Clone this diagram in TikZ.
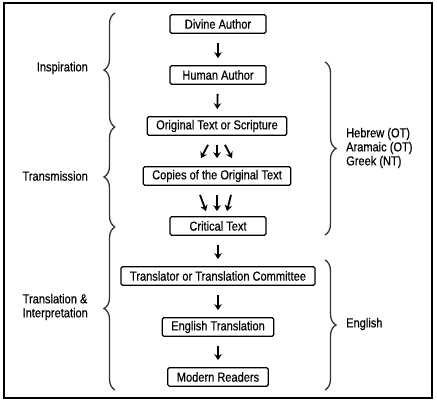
\documentclass[tikz,border=0pt]{standalone}
\usepackage{fontspec}
\setmainfont{Liberation Sans}[FakeStretch=0.85,FakeBold=0.5]
\usetikzlibrary{arrows.meta,decorations.pathreplacing}
\tikzstyle{stage} = [draw=black, line width=1.2pt, rounded corners=1.5pt,%
	minimum width=96pt, minimum height=18.5pt, inner xsep=9pt, inner ysep=0pt,%
	font=\fontsize{13}{14}\selectfont]
\tikzstyle{arrow} = [line width=1.8pt, -{Stealth[length=6pt,width=7.5pt]},%
	shorten <=9pt, shorten >=7pt]
\tikzstyle{fan} = [arrow, shorten <=0pt, shorten >=0pt]
\tikzstyle{curly} = [decorate, decoration={brace,amplitude=11pt},%
	line width=1.3pt, black!80]
\tikzstyle{side} = [font=\fontsize{13}{14}\selectfont, align=left, inner sep=0pt]

\begin{document}
\begin{tikzpicture}[x=1pt, y=-1pt]
		\useasboundingbox (0,0) rectangle (437,403);
		\draw[line width=1.3pt] (4,3) rectangle (432,398);
		% stages
		\node[stage] (divine) at (218,24) {Divine Author};
		\node[stage] (human) at (218,75) {Human Author};
		\node[stage] (original) at (217,126) {Original Text or Scripture};
		\node[stage] (copies) at (217,176) {Copies of the Original Text};
		\node[stage] (critical) at (218,226) {Critical Text};
		\node[stage] (translator) at (218,276) {Translator or Translation Committee};
		\node[stage] (english) at (218,327) {English Translation};
		\node[stage] (readers) at (218,377) {Modern Readers};
		% arrows
		\draw[arrow] (divine) -- (human);
		\draw[arrow] (human) -- (original);
		\draw[fan] ([xshift=-9pt,yshift=-9pt]original.south) -- ([xshift=-16pt,yshift=8pt]copies.north);
		\draw[fan] ([yshift=-9pt]original.south) -- ([yshift=8pt]copies.north);
		\draw[fan] ([xshift=8pt,yshift=-9pt]original.south) -- ([xshift=15pt,yshift=8pt]copies.north);
		\draw[fan] ([xshift=-17pt,yshift=-9pt]copies.south) -- ([xshift=-12pt,yshift=5pt]critical.north);
		\draw[fan] ([yshift=-9pt]copies.south) -- ([xshift=-1pt,yshift=5pt]critical.north);
		\draw[fan] ([xshift=14pt,yshift=-9pt]copies.south) -- ([xshift=9pt,yshift=5pt]critical.north);
		\draw[arrow] (critical) -- (translator);
		\draw[arrow] (translator) -- (english);
		\draw[arrow] (english) -- (readers);
		% braces on the left
		\draw[curly] (115,127) -- (115,13);
		\draw[curly] (115,227) -- (115,127);
		\draw[curly] (115,390) -- (115,227);
		\node[side, anchor=east] (inspiration) at (88,68) {Inspiration};
		\node[side, anchor=east] (transmission) at (88,176) {Transmission};
		\node[side, anchor=east] (interpretation) at (88,307) {Translation \&\\Interpretation};
		% braces on the right
		\draw[curly] (325,62) -- (325,235);
		\draw[curly] (325,260) -- (325,390);
		\node[side, anchor=west] (languages) at (346,148) {Hebrew (OT)\\Aramaic (OT)\\Greek (NT)};
		\node[side, anchor=west] (english-label) at (346,324) {English};
	\end{tikzpicture}
\end{document}
